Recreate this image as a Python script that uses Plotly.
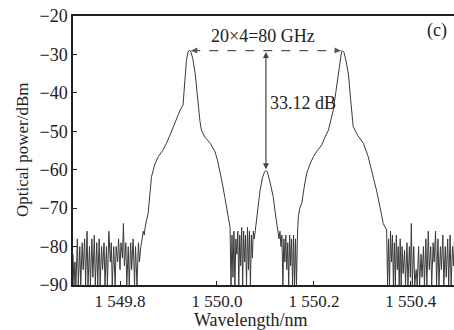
import plotly.graph_objects as go

# ---- data ----
left_noise_nm = [1549.703, 1549.705, 1549.707, 1549.709, 1549.712, 1549.714, 1549.717, 1549.719, 1549.722, 1549.724,
                 1549.727, 1549.729, 1549.732, 1549.734, 1549.737, 1549.739, 1549.742, 1549.744, 1549.747, 1549.749,
                 1549.752, 1549.754, 1549.757, 1549.759, 1549.762, 1549.764, 1549.767, 1549.769, 1549.772, 1549.774,
                 1549.777, 1549.780, 1549.782, 1549.784, 1549.787, 1549.790, 1549.792, 1549.795, 1549.797, 1549.800,
                 1549.802, 1549.805, 1549.807, 1549.809, 1549.812, 1549.814, 1549.817, 1549.819, 1549.822, 1549.824,
                 1549.827, 1549.830, 1549.832, 1549.835, 1549.838, 1549.840, 1549.843, 1549.845, 1549.848, 1549.850]
left_noise_dbm = [-82, -90, -84, -90, -78, -90, -80, -90, -79, -86,
                  -78, -90, -76, -90, -80, -90, -78, -88, -77, -90,
                  -79, -90, -78, -90, -80, -86, -79, -90, -80, -90,
                  -76, -84, -79, -90, -80, -90, -80, -84, -78, -86,
                  -79, -83, -74, -85, -79, -90, -80, -90, -79, -86,
                  -78, -90, -80, -90, -79, -84, -80, -78, -76, -77]

peak1_nm = [1549.852, 1549.858, 1549.865, 1549.872, 1549.879, 1549.888, 1549.896, 1549.903, 1549.910, 1549.918,
            1549.924, 1549.930, 1549.932, 1549.934, 1549.937, 1549.940, 1549.943, 1549.946, 1549.950, 1549.955,
            1549.958, 1549.961, 1549.965, 1549.968, 1549.975, 1549.986, 1549.996, 1550.001, 1550.006, 1550.011,
            1550.016, 1550.021, 1550.025, 1550.027]
peak1_dbm = [-74.8, -71.3, -61.8, -58.5, -56.6, -55.0, -53.1, -51.0, -48.8, -46.5,
             -44.5, -43.2, -40.0, -35.0, -31.5, -29.5, -28.9, -29.3, -31.0, -34.9,
             -39.0, -43.6, -47.5, -49.7, -51.5, -53.1, -55.3, -57.5, -60.1, -63.5,
             -67.0, -70.5, -73.5, -75.0]

mid_noise1_nm = [1550.029, 1550.031, 1550.033, 1550.035, 1550.037, 1550.039, 1550.041, 1550.043, 1550.045, 1550.047,
                 1550.049, 1550.051, 1550.053, 1550.055, 1550.057, 1550.059, 1550.061, 1550.063, 1550.065, 1550.067,
                 1550.069, 1550.071, 1550.073, 1550.075, 1550.077, 1550.080]
mid_noise1_dbm = [-90, -77, -88, -76, -90, -78, -82, -76, -90, -77,
                  -85, -75, -90, -76, -84, -77, -90, -75, -86, -76,
                  -90, -77, -83, -76, -78, -75]

center_nm = [1550.082, 1550.085, 1550.089, 1550.094, 1550.098, 1550.101, 1550.104, 1550.109, 1550.116, 1550.120, 1550.124]
center_dbm = [-72.2, -69.0, -65.3, -62.0, -60.6, -60.2, -60.6, -63.0, -67.0, -71.0, -74.8]

mid_noise2_nm = [1550.126, 1550.128, 1550.130, 1550.132, 1550.134, 1550.136, 1550.138, 1550.140, 1550.142, 1550.144,
                 1550.146, 1550.148, 1550.150, 1550.152, 1550.154, 1550.156, 1550.158, 1550.160, 1550.162, 1550.164,
                 1550.166, 1550.168]
mid_noise2_dbm = [-76, -78, -76, -80, -77, -90, -78, -84, -77, -86,
                  -79, -90, -77, -85, -78, -90, -77, -90, -78, -90,
                  -77, -72]

peak2_nm = [1550.171, 1550.175, 1550.180, 1550.185, 1550.192, 1550.199, 1550.207, 1550.216, 1550.223, 1550.230,
            1550.235, 1550.240, 1550.245, 1550.250, 1550.254, 1550.257, 1550.259, 1550.262, 1550.266, 1550.271,
            1550.276, 1550.281, 1550.290, 1550.302, 1550.312, 1550.320, 1550.329, 1550.336, 1550.343, 1550.350]
peak2_dbm = [-70.0, -68.7, -64.5, -61.0, -58.5, -56.6, -55.0, -53.6, -51.5, -49.7,
             -47.0, -44.5, -40.0, -34.9, -31.0, -29.3, -29.0, -29.5, -31.5, -34.9,
             -42.0, -48.8, -51.0, -53.1, -56.6, -60.5, -65.3, -69.5, -74.0, -75.7]

right_noise_nm = [1550.352, 1550.354, 1550.356, 1550.358, 1550.360, 1550.362, 1550.364, 1550.366, 1550.368, 1550.370,
                  1550.372, 1550.374, 1550.376, 1550.378, 1550.380, 1550.382, 1550.384, 1550.387, 1550.389, 1550.392,
                  1550.394, 1550.397, 1550.399, 1550.401, 1550.403, 1550.406, 1550.408, 1550.411, 1550.413, 1550.416,
                  1550.418, 1550.421, 1550.423, 1550.426, 1550.428, 1550.431, 1550.433, 1550.436, 1550.438, 1550.441,
                  1550.443, 1550.446, 1550.448, 1550.451, 1550.453, 1550.456, 1550.458, 1550.461, 1550.463, 1550.466,
                  1550.468, 1550.471, 1550.473, 1550.476, 1550.478, 1550.481, 1550.483, 1550.486, 1550.488, 1550.490]
right_noise_dbm = [-90, -78, -90, -76, -84, -77, -90, -79, -90, -77,
                   -86, -80, -90, -78, -90, -80, -87, -81, -90, -79,
                   -90, -80, -88, -74, -90, -80, -90, -86, -90, -80,
                   -90, -82, -88, -80, -90, -78, -90, -76, -86, -80,
                   -90, -79, -84, -76, -90, -78, -90, -80, -86, -77,
                   -90, -80, -88, -78, -90, -77, -90, -80, -85, -78]

x_tick_vals = [1549.8, 1550.0, 1550.2, 1550.4]
x_tick_text = ["1 549.8", "1 550.0", "1 550.2", "1 550.4"]
y_tick_vals = [-20, -30, -40, -50, -60, -70, -80, -90]

peak_left_nm, peak_right_nm, peak_level_dbm = 1549.943, 1550.259, -29.0
center_peak_nm, center_level_dbm = 1550.101, -60.2

wavelength = (left_noise_nm + peak1_nm + mid_noise1_nm + center_nm +
              mid_noise2_nm + peak2_nm + right_noise_nm)
power = (left_noise_dbm + peak1_dbm + mid_noise1_dbm + center_dbm +
         mid_noise2_dbm + peak2_dbm + right_noise_dbm)

FONT = "Liberation Serif"
INK = "#222222"

fig = go.Figure()
fig.add_trace(go.Scatter(x=wavelength, y=power, mode="lines",
                         line=dict(color="#3a3a3a", width=1), hoverinfo="skip",
                         showlegend=False))

# dashed spacing line between the two sidebands
fig.add_shape(type="line", xref="x", yref="y",
              x0=peak_left_nm + 0.004, x1=peak_right_nm - 0.004,
              y0=peak_level_dbm, y1=peak_level_dbm,
              line=dict(color="#555555", width=1.2, dash="dash"))
for tip, tail in [(peak_left_nm + 0.004, peak_left_nm + 0.016),
                  (peak_right_nm - 0.004, peak_right_nm - 0.016)]:
    fig.add_annotation(x=tip, y=peak_level_dbm, ax=tail, ay=peak_level_dbm,
                       xref="x", yref="y", axref="x", ayref="y", text="",
                       showarrow=True, arrowhead=2, arrowsize=1, arrowwidth=1.2,
                       arrowcolor="#555555")

# vertical suppression arrow
fig.add_annotation(x=center_peak_nm, y=center_level_dbm + 0.3,
                   ax=center_peak_nm, ay=peak_level_dbm,
                   xref="x", yref="y", axref="x", ayref="y", text="",
                   showarrow=True, arrowhead=2, arrowside="end+start",
                   arrowsize=1, arrowwidth=1.2, arrowcolor="#444444")

fig.add_annotation(x=1550.095, y=-25.3, xref="x", yref="y", text="20×4=80 GHz",
                   showarrow=False, font=dict(family=FONT, size=18, color=INK))
fig.add_annotation(x=1550.177, y=-42.7, xref="x", yref="y", text="33.12 dB",
                   showarrow=False, font=dict(family=FONT, size=18, color=INK))
fig.add_annotation(x=1550.454, y=-23.7, xref="x", yref="y", text="(c)",
                   showarrow=False, font=dict(family=FONT, size=18, color=INK))

# axis titles
fig.add_annotation(x=1550.070, y=-0.131, xref="x", yref="paper", text="Wavelength/nm",
                   xanchor="center", yanchor="middle",
                   showarrow=False, font=dict(family=FONT, size=18, color=INK))
fig.add_annotation(x=-0.131, y=0.502, xref="paper", yref="paper", text="Optical power/dBm",
                   xanchor="center", yanchor="middle",
                   textangle=-90, showarrow=False, font=dict(family=FONT, size=17, color=INK))

fig.update_layout(
    width=454, height=330,
    margin=dict(l=73, r=0, t=16, b=45, autoexpand=False),
    paper_bgcolor="white", plot_bgcolor="white",
    font=dict(family=FONT, size=18, color=INK),
    xaxis=dict(range=[1549.703, 1550.489], tickvals=x_tick_vals, ticktext=x_tick_text,
               ticks="inside", ticklen=4, tickcolor=INK, showline=True, linecolor="#222222",
               linewidth=1.5, mirror=True, showgrid=False, zeroline=False,
               tickfont=dict(family=FONT, size=17, color=INK)),
    yaxis=dict(range=[-90, -20], tickvals=y_tick_vals, ticks="inside", ticklen=4,
               tickcolor=INK, showline=True, linecolor="#222222", linewidth=1.5,
               mirror=False, showgrid=False, zeroline=False,
               tickfont=dict(family=FONT, size=18, color=INK)),
)

fig.write_html("out.html")
